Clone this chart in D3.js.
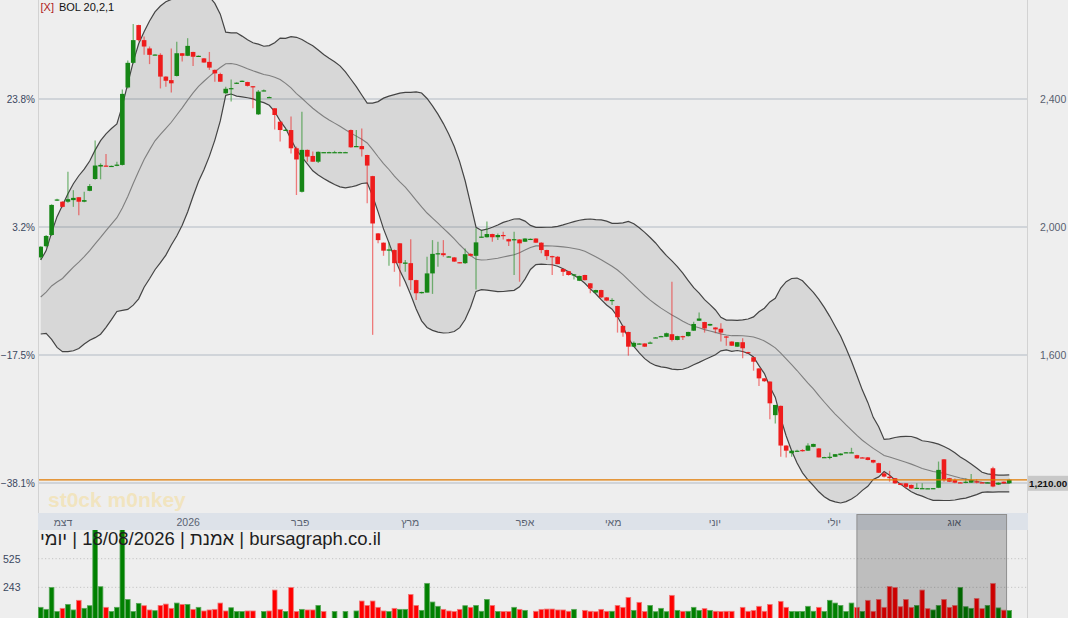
<!DOCTYPE html>
<html>
<head>
<meta charset="utf-8">
<script src="https://cdn.jsdelivr.net/npm/d3@7"></script>
<style>
  html, body { margin: 0; padding: 0; background: #eeeeee; overflow: hidden; }
  svg { display: block; font-family: "Liberation Sans", Arial, sans-serif; }
</style>
</head>
<body>
<svg id="chart" width="1068" height="618"></svg>
<script>
// Daily candles (one entry per trading day)
const opens = [
  1905,1940,1975,2083,2079,2079,2084,2093,2079,2113,
  2150,2189,2192,2191,2191,2194,2436,2513,2631,2584,
  2558,2538,2538,2470,2459,2472,2543,2535,2547,2533,
  2527,2516,2491,2478,2418,2432,2449,2455,2453,2440,
  2352,2425,2405,2371,2329,2302,2303,2246,2110,2241,
  2222,2204,2233,2234,2234,2234,2234,2303,2251,2253,
  2225,2159,1980,1951,1926,1928,1949,1885,1887,1834,
  1793,1795,1855,1916,1918,1907,1905,1890,1887,1916,
  1910,1968,1968,1978,1968,1975,1962,1960,1961,1954,
  1962,1964,1951,1928,1909,1907,1869,1862,1850,1832,
  1850,1824,1795,1803,1780,1770,1753,1691,1672,1626,
  1634,1636,1638,1654,1657,1657,1665,1647,1659,1659,
  1676,1707,1703,1692,1686,1682,1658,1642,1626,1640,
  1609,1593,1558,1527,1517,1412,1441,1317,1293,1300,
  1303,1301,1313,1308,1280,1281,1282,1287,1295,1295,
  1287,1280,1280,1272,1262,1230,1220,1215,1199,1199,
  1194,1184,1183,1183,1183.5,1185,1274,1215,1209,1202,
  1201,1201,1205,1202,1201,1246,1195,1204,1199
];
const highs = [
  1940,1975,2071,2088,2081,2173,2115,2094,2110,2134,
  2270,2199,2228,2192,2204,2430,2520,2634,2632,2595,
  2564,2540,2543,2471,2558,2579,2544,2590,2548,2536,
  2528,2547,2492,2482,2438,2461,2452,2458,2454,2441,
  2428,2430,2408,2372,2330,2306,2345,2251,2360,2242,
  2236,2236,2234,2235,2238,2235,2235,2305,2303,2308,
  2226,2160,1981,1952,1952,1930,1950,1897,1962,1835,
  1798,1907,1959,1954,1959,1909,1906,1891,1933,1918,
  1996,1991,2017,1979,1980,1985,1963,1985,1962,1965,
  1964,1965,1952,1929,1910,1909,1870,1863,1853,1848,
  1851,1825,1804,1804,1781,1777,1754,1692,1673,1642,
  1637,1637,1642,1656,1660,1670,1829,1660,1660,1673,
  1704,1733,1704,1698,1687,1699,1659,1643,1641,1652,
  1610,1594,1559,1528,1518,1444,1442,1318,1302,1304,
  1306,1324,1323,1309,1282,1295,1291,1293,1297,1310,
  1288,1281,1281,1273,1263,1235,1238,1216,1200,1200,
  1195,1199,1199,1184,1184,1267,1275,1216,1214,1203,
  1214,1228,1212,1203,1203,1251,1202,1205,1213
];
const lows = [
  1898,1936,1972,2081,2061,2076,2063,2037,2077,2112,
  2148,2149,2190,2190,2190,2192,2433,2511,2580,2538,
  2509,2537,2433,2438,2420,2470,2517,2534,2503,2532,
  2513,2491,2454,2454,2416,2392,2447,2453,2439,2371,
  2350,2424,2404,2305,2267,2300,2230,2100,2108,2204,
  2204,2200,2233,2233,2233,2233,2233,2248,2250,2220,
  2074,1663,1949,1910,1879,1860,1814,1860,1803,1772,
  1792,1795,1791,1876,1907,1906,1891,1887,1884,1908,
  1805,1967,1967,1954,1959,1961,1941,1850,1829,1953,
  1961,1950,1918,1897,1850,1884,1847,1848,1836,1831,
  1833,1793,1794,1778,1768,1756,1670,1657,1598,1625,
  1633,1625,1637,1653,1656,1656,1642,1646,1647,1658,
  1675,1706,1670,1691,1668,1642,1629,1628,1625,1590,
  1606,1551,1503,1516,1399,1386,1282,1280,1282,1298,
  1298,1300,1312,1280,1279,1274,1281,1286,1294,1294,
  1276,1278,1271,1262,1231,1217,1204,1198,1193,1183,
  1182,1183,1182,1183,1183,1184,1204,1203,1199,1200,
  1199,1200,1199,1200,1200,1187,1194,1198,1198
];
const closes = [
  1938.5,1972,2069,2086,2063,2087,2091,2079,2084,2128,
  2192,2194,2191,2191,2195,2416,2513,2584,2584,2564,
  2538,2539,2470,2457,2449,2543,2535,2566,2532,2535,
  2514,2498,2480,2454,2432,2434,2451,2457,2441,2438,
  2423,2427,2406,2350,2303,2304,2246,2211,2241,2220,
  2204,2235,2234,2234,2234,2234,2234,2249,2253,2243,
  2192,2011,1959,1926,1930,1887,1887,1889,1834,1793,
  1797,1855,1916,1918,1912,1908,1892,1888,1915,1910,
  1952,1970,1978,1968,1975,1972,1955,1962,1949,1964,
  1963,1951,1928,1909,1907,1884,1860,1850,1852,1847,
  1834,1808,1803,1780,1770,1772,1718,1670,1626,1638,
  1636,1626,1639,1655,1659,1668,1647,1659,1657,1672,
  1697,1714,1683,1697,1680,1670,1656,1629,1640,1621,
  1607,1579,1527,1518,1449,1444,1317,1301,1301,1301,
  1302,1317,1322,1280,1281,1282,1290,1292,1296,1296,
  1277,1279,1272,1264,1232,1220,1215,1199,1194,1188,
  1183,1185,1184,1183.5,1184,1241,1209,1204,1201,1201,
  1204,1209,1203,1201,1202,1189,1201,1199,1210
];
const volumes = [
  46,26,242,5,36,75,20,115,36,62,
  1000,249,46,5,46,950,124,5,85,62,
  20,13,65,78,36,88,75,75,26,46,
  10,20,26,88,10,42,5,5,10,10,
  0,5,10,216,26,5,242,5,26,20,
  20,65,5,0,5,0,5,0,10,108,
  65,108,46,10,5,36,26,26,173,65,
  16,282,98,56,26,10,5,26,62,46,
  65,7,124,65,5,5,5,46,26,16,
  0,7,26,29,29,20,20,7,26,0,
  16,7,3,26,7,7,65,46,144,16,
  95,5,65,3,36,3,164,16,7,7,
  46,16,33,16,7,5,7,7,0,46,
  7,16,56,7,75,0,105,46,5,5,
  5,56,7,46,5,115,88,65,5,88,
  46,5,115,7,124,46,252,242,52,124,
  46,65,216,33,20,65,124,46,65,242,
  52,36,134,33,65,282,40,18,14
];
// closes before the first visible day, estimated from the width of the band at the left edge
const warmupCloses = [1660,1690,1840,1840,1730,1745,1760,1740,1755,1770,
                      1790,1765,1780,1800,1810,1795,1770,1820,1825];

const priceTicks = [2400, 2000, 1600, 1200];
const rightTicks = [2400, 2000, 1600]; // 1,200 sits under the last-price tag
const volumeTicks = [243, 525];
const monthNames = ["דצמ", "2026", "פבר", "מרץ", "אפר", "מאי", "יוני", "יולי", "אוג"];
const monthPos = [4.1, 27.1, 47.7, 67.9, 89, 105.2, 123.9, 145.8, 167.9]; // candle index under each label
const highlightFrom = 150, highlightTo = 178; // shaded span in the date strip / volume pane
const titleText = "bursagraph.co.il | אמנת | 18/08/2026 | יומי";

const GREEN = "#168616", RED = "#ee1c1c";
const BOL_PERIOD = 20, BOL_MULT = 2;

const svg = d3.select("#chart");
const N = closes.length;
const left = 38, right = 1028;

const x = d3.scaleLinear().domain([-0.5, N - 0.5]).range([38, 1012]);
const step = x(1) - x(0);
const y = d3.scaleLinear().domain([1200, 2400]).range([483, 99]);
const yVol = d3.scaleLinear().domain([0, 525]).range([612, 558.7]);

const defs = svg.append("defs");
defs.append("clipPath").attr("id", "clipPrice")
  .append("rect").attr("x", left).attr("y", 0).attr("width", right - left).attr("height", 512);
defs.append("clipPath").attr("id", "clipVol")
  .append("rect").attr("x", left).attr("y", 530).attr("width", right - left).attr("height", 90);

svg.append("rect").attr("width", 1068).attr("height", 618).attr("fill", "#eeeeee");

// price grid
svg.append("g").selectAll("line").data(priceTicks).join("line")
  .attr("x1", left).attr("x2", right)
  .attr("y1", d => y(d)).attr("y2", d => y(d))
  .attr("stroke", "#c6cbd2").attr("stroke-width", 1.4);

// Bollinger band (20, 2) on closes
const allCloses = warmupCloses.concat(closes);
const bands = closes.map((c, i) => {
  const end = i + warmupCloses.length + 1;
  const win = allCloses.slice(end - BOL_PERIOD, end);
  const m = d3.mean(win);
  const sd = Math.sqrt(d3.mean(win, v => (v - m) * (v - m)));
  return { i: i, mid: m, up: m + BOL_MULT * sd, lo: m - BOL_MULT * sd };
});

const gPrice = svg.append("g").attr("clip-path", "url(#clipPrice)");

gPrice.append("path").datum(bands)
  .attr("d", d3.area().x(d => x(d.i)).y0(d => y(d.lo)).y1(d => y(d.up)))
  .attr("fill", "#000").attr("fill-opacity", 0.095);
gPrice.append("path").datum(bands)
  .attr("d", d3.line().x(d => x(d.i)).y(d => y(d.mid)))
  .attr("fill", "none").attr("stroke", "#7f7f7f").attr("stroke-width", 1.1);
["up", "lo"].forEach(k => {
  gPrice.append("path").datum(bands)
    .attr("d", d3.line().x(d => x(d.i)).y(d => y(d[k])))
    .attr("fill", "none").attr("stroke", "#444").attr("stroke-width", 1.2);
});

// candles
const bodyW = 4.6;
const candle = gPrice.append("g").selectAll("g").data(d3.range(N)).join("g");
candle.append("line")
  .attr("x1", i => x(i)).attr("x2", i => x(i))
  .attr("y1", i => y(highs[i])).attr("y2", i => y(lows[i]))
  .attr("stroke", i => closes[i] >= opens[i] ? GREEN : RED)
  .attr("stroke-opacity", 0.55).attr("stroke-width", 1.3);
candle.append("rect")
  .attr("x", i => x(i) - bodyW / 2).attr("width", bodyW)
  .attr("y", i => y(Math.max(opens[i], closes[i])))
  .attr("height", i => Math.max(1.2, Math.abs(y(opens[i]) - y(closes[i]))))
  .attr("fill", i => closes[i] >= opens[i] ? GREEN : RED);

// last price line
const lastClose = closes[N - 1];
svg.append("line").attr("x1", left).attr("x2", right)
  .attr("y1", y(lastClose)).attr("y2", y(lastClose))
  .attr("stroke", "#e07a00").attr("stroke-width", 1.2);

// watermark
svg.append("text").attr("x", 48).attr("y", 507)
  .attr("font-size", 21).attr("font-weight", "bold")
  .attr("fill", "#f2e3b9").attr("fill-opacity", 0.9)
  .text("st0ck m0nkey");

// left percentage labels, right price labels
const base = closes[0];
svg.append("g").selectAll("text").data(priceTicks).join("text")
  .attr("x", 35).attr("y", d => y(d) + 4)
  .attr("text-anchor", "end").attr("font-size", 10).attr("fill", "#3a475e")
  .text(d => d3.format(".1f")((d / base - 1) * 100) + "%");
svg.append("g").selectAll("text").data(rightTicks).join("text")
  .attr("x", 1040).attr("y", d => y(d) + 4)
  .attr("font-size", 10.5).attr("fill", "#58606e")
  .text(d => d3.format(",")(d));

// frame lines
svg.append("line").attr("x1", left + 0.5).attr("x2", left + 0.5).attr("y1", 0).attr("y2", 618)
  .attr("stroke", "#d2d2d2");
svg.append("line").attr("x1", right - 0.5).attr("x2", right - 0.5).attr("y1", 0).attr("y2", 618)
  .attr("stroke", "#d2d2d2");

// last price tag
const tagY = y(lastClose) + 3.5;
svg.append("rect").attr("x", right).attr("y", tagY - 7.5).attr("width", 40).attr("height", 15)
  .attr("fill", "#c8c8c8");
svg.append("text").attr("x", right + 1).attr("y", tagY + 4)
  .attr("font-size", 9.8).attr("font-weight", "bold").attr("fill", "#111")
  .text(d3.format(",.2f")(lastClose));

// date strip
svg.append("rect").attr("x", left).attr("y", 513).attr("width", right - left).attr("height", 17)
  .attr("fill", "#dde2e9");
svg.append("g").selectAll("text").data(monthNames).join("text")
  .attr("x", (d, k) => x(monthPos[k])).attr("y", 526)
  .attr("text-anchor", "middle").attr("font-size", 10.5).attr("fill", "#5a6372")
  .text(d => d);

// volume grid + labels
svg.append("g").selectAll("line").data(volumeTicks).join("line")
  .attr("x1", left).attr("x2", right)
  .attr("y1", d => yVol(d)).attr("y2", d => yVol(d))
  .attr("stroke", "#c4c4c4").attr("stroke-dasharray", "1.2,2.3");
svg.append("g").selectAll("text").data(volumeTicks).join("text")
  .attr("x", 3).attr("y", d => yVol(d) + 4)
  .attr("font-size", 10.5).attr("fill", "#3a475e")
  .text(d => d);

// volume bars, coloured by close against previous close
const volUp = i => i === 0 ? closes[0] >= opens[0] : closes[i] >= closes[i - 1];
svg.append("g").attr("clip-path", "url(#clipVol)")
  .selectAll("rect").data(d3.range(N).filter(i => volumes[i] > 0)).join("rect")
  .attr("x", i => x(i) - step / 2 + 0.4).attr("width", step - 0.8)
  .attr("y", i => yVol(volumes[i])).attr("height", i => 620 - yVol(volumes[i]))
  .attr("fill", i => volUp(i) ? "#008000" : "#ff0000")
  .attr("stroke", i => volUp(i) ? "#5aa85a" : "#f07a7a").attr("stroke-width", 0.8);

// shaded span
const hx0 = x(highlightFrom), hx1 = x(highlightTo - 0.5);
svg.append("rect").attr("x", hx0).attr("y", 514.5).attr("width", hx1 - hx0).attr("height", 110)
  .attr("fill", "#000").attr("fill-opacity", 0.2)
  .attr("stroke", "#8f8f8f").attr("stroke-width", 1);

// title line
svg.append("text").attr("x", 40).attr("y", 545)
  .attr("direction", "rtl").attr("text-anchor", "end")
  .attr("font-size", 18.5).attr("fill", "#1e1e1e")
  .text(titleText);

// indicator legend
const legend = svg.append("text").attr("x", 40.5).attr("y", 11).attr("font-size", 11);
legend.append("tspan").attr("fill", "#b01c1c").text("[X]");
legend.append("tspan").attr("dx", 5).attr("fill", "#111").text("BOL 20,2,1");
</script>
</body>
</html>
